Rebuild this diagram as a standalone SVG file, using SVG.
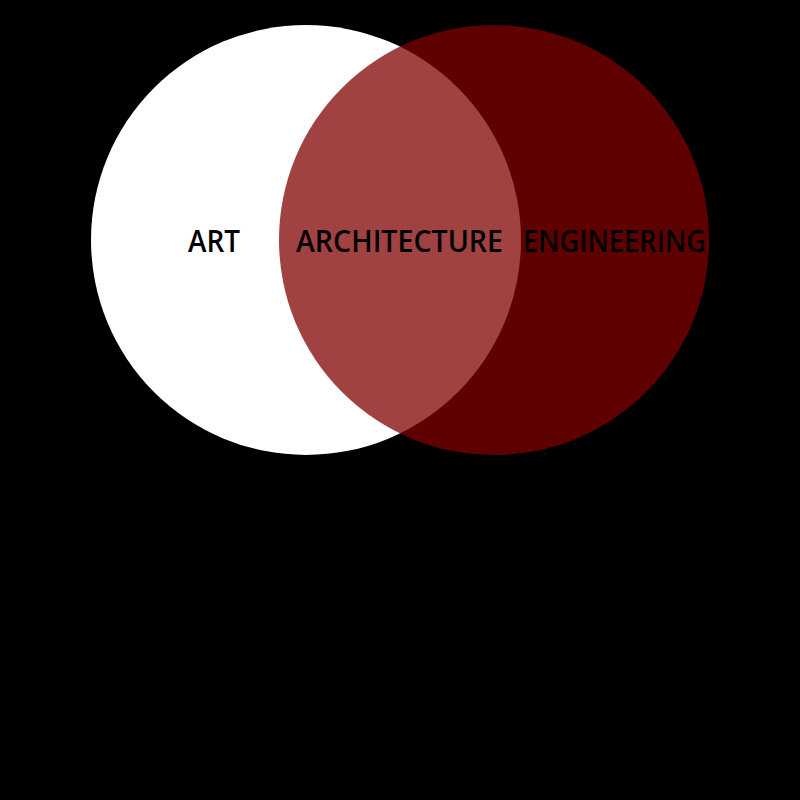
<svg xmlns="http://www.w3.org/2000/svg" width="800" height="800" viewBox="0 0 800 800">
  <style>
    .lbl { font-family: "Open Sans", "Noto Sans", "DejaVu Sans", sans-serif; font-weight: 600; font-size: 31px; fill: #000000; }
  </style>
  <rect x="0" y="0" width="800" height="800" fill="#000000"/>
  <g id="art">
    <circle cx="306" cy="240" r="215" fill="#ffffff"/>
  </g>
  <g id="engineering">
    <circle cx="494" cy="240" r="215" fill="#800000" fill-opacity="0.74"/>
  </g>
  <g id="labels">
    <text id="label-art" class="lbl" x="188" y="252" textLength="52" lengthAdjust="spacingAndGlyphs">ART</text>
    <text id="label-architecture" class="lbl" x="296" y="252" textLength="207" lengthAdjust="spacingAndGlyphs">ARCHITECTURE</text>
    <text id="label-engineering" class="lbl" x="523" y="252" textLength="183" lengthAdjust="spacingAndGlyphs">ENGINEERING</text>
  </g>
  <g id="connectors"></g>
</svg>
